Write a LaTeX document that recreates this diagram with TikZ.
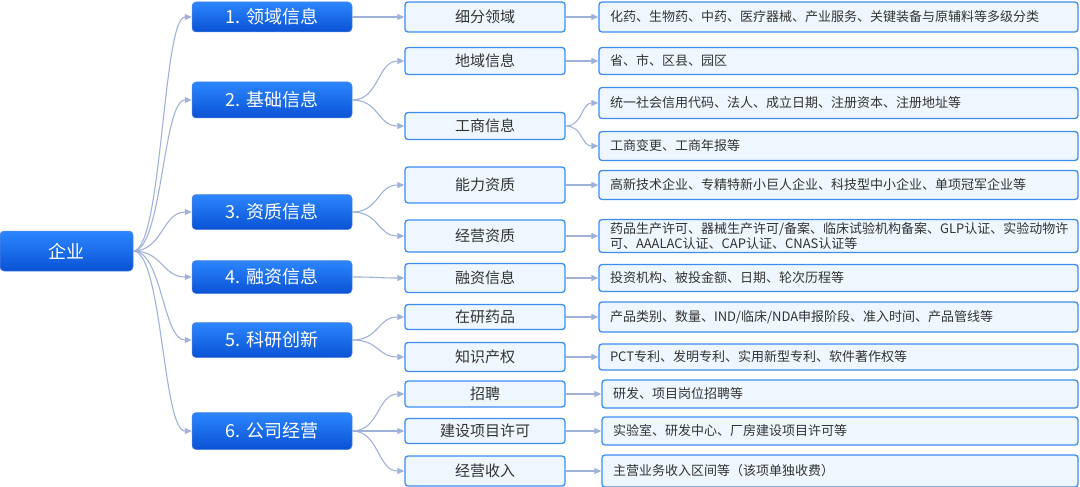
\documentclass[tikz,border=0pt]{standalone}
\usepackage{fontspec}
\setmainfont{Noto Sans CJK SC}
\usepackage{tikz}
\usetikzlibrary{arrows.meta}

\definecolor{headlight}{HTML}{2C86FF}
\definecolor{headdark}{HTML}{0A52D4}
\definecolor{boxline}{HTML}{3D8DF2}
\definecolor{boxfill}{HTML}{EEF6FF}
\definecolor{linkgray}{HTML}{A0B2DA}
\definecolor{txtgray}{HTML}{333333}

\tikzset{
  headbox/.style={rectangle, rounded corners=4pt, top color=headlight, bottom color=headdark, draw=headdark!70, line width=0.5pt, text=white, font=\fontsize{18}{20}\selectfont, minimum width=160pt, minimum height=34pt, inner sep=0pt},
  subbox/.style={rectangle, rounded corners=3pt, draw=boxline, fill=boxfill, line width=1.3pt, text=txtgray, font=\fontsize{15}{17}\selectfont, minimum width=160pt, inner sep=0pt},
  detbox/.style={rectangle, rounded corners=3pt, draw=boxline, fill=boxfill, line width=1.3pt, text=txtgray, font=\fontsize{13}{15.5}\selectfont, text width=457pt, inner xsep=11pt, inner ysep=0pt, align=left},
  arrowlink/.style={draw=linkgray, line width=1.1pt, -{Triangle[length=7pt,width=6pt]}}
}

\begin{document}
\begin{tikzpicture}[x=1pt, y=1pt]
		\useasboundingbox (0,0) rectangle (1080,-487);
		
		\node[headbox, minimum width=133pt, minimum height=40pt](ROOT) at (66.5,-251){企业};
		
		\node[headbox, minimum height=30pt](CAT1) at (272,-17){1. 领域信息};
		\node[headbox, below of=CAT1, node distance=83pt, minimum height=36pt](CAT2){2. 基础信息};
		\node[headbox, below of=CAT2, node distance=112pt, minimum height=35pt](CAT3){3. 资质信息};
		\node[headbox, below of=CAT3, node distance=65pt, minimum height=33pt](CAT4){4. 融资信息};
		\node[headbox, below of=CAT4, node distance=63pt, minimum height=35pt](CAT5){5. 科研创新};
		\node[headbox, below of=CAT5, node distance=91pt, minimum height=37pt](CAT6){6. 公司经营};
		
		\node[subbox, right of=CAT1, node distance=213pt, minimum height=30pt](SUB1){细分领域};
		\node[subbox, below of=SUB1, node distance=44pt, minimum height=27pt](SUB2){地域信息};
		\node[subbox, below of=SUB2, node distance=65pt, minimum height=27pt](SUB3){工商信息};
		\node[subbox, below of=SUB3, node distance=59pt, minimum height=36pt](SUB4){能力资质};
		\node[subbox, below of=SUB4, node distance=51pt, minimum height=32pt](SUB5){经营资质};
		\node[subbox, below of=SUB5, node distance=42pt, minimum height=29pt](SUB6){融资信息};
		\node[subbox, below of=SUB6, node distance=39pt, minimum height=25pt](SUB7){在研药品};
		\node[subbox, below of=SUB7, node distance=40pt, minimum height=29pt](SUB8){知识产权};
		\node[subbox, below of=SUB8, node distance=37pt, minimum height=26pt](SUB9){招聘};
		\node[subbox, below of=SUB9, node distance=37pt, minimum height=25pt](SUB10){建设项目许可};
		\node[subbox, below of=SUB10, node distance=40pt, minimum height=30pt](SUB11){经营收入};
		
		\node[detbox, right of=SUB1, node distance=353.5pt, minimum height=30pt](DET1){化药、生物药、中药、医疗器械、产业服务、关键装备与原辅料等多级分类};
		\node[detbox, right of=SUB2, node distance=353.5pt, minimum height=27pt](DET2){省、市、区县、园区};
		\node[detbox, right of=SUB3, node distance=353.5pt, yshift=23pt, minimum height=31pt](DET3){统一社会信用代码、法人、成立日期、注册资本、注册地址等};
		\node[detbox, right of=SUB3, node distance=353.5pt, yshift=-20pt, minimum height=29pt](DET4){工商变更、工商年报等};
		\node[detbox, right of=SUB4, node distance=353.5pt, minimum height=29pt](DET5){高新技术企业、专精特新小巨人企业、科技型中小企业、单项冠军企业等};
		\node[detbox, right of=SUB5, node distance=353.5pt, minimum height=33pt](DET6){药品生产许可、器械生产许可/备案、临床试验机构备案、GLP认证、实验动物许\\可、AAALAC认证、CAP认证、CNAS认证等};
		\node[detbox, right of=SUB6, node distance=353.5pt, minimum height=27pt](DET7){投资机构、被投金额、日期、轮次历程等};
		\node[detbox, right of=SUB7, node distance=353.5pt, minimum height=30pt](DET8){产品类别、数量、IND/临床/NDA申报阶段、准入时间、产品管线等};
		\node[detbox, right of=SUB8, node distance=353.5pt, minimum height=26pt](DET9){PCT专利、发明专利、实用新型专利、软件著作权等};
		\node[detbox, right of=SUB9, node distance=355pt, text width=454pt, minimum height=28pt](DET10){研发、项目岗位招聘等};
		\node[detbox, right of=SUB10, node distance=355pt, text width=454pt, minimum height=28pt](DET11){实验室、研发中心、厂房建设项目许可等};
		\node[detbox, right of=SUB11, node distance=355pt, text width=454pt, minimum height=32pt](DET12){主营业务收入区间等（该项单独收费）};
		
		\draw[arrowlink] (ROOT.east) .. controls +(29,0) and +(-29,0) .. (CAT1.west);
		\draw[arrowlink] (ROOT.east) .. controls +(29,0) and +(-29,0) .. (CAT2.west);
		\draw[arrowlink] (ROOT.east) .. controls +(29,0) and +(-29,0) .. (CAT3.west);
		\draw[arrowlink] (ROOT.east) .. controls +(29,0) and +(-29,0) .. (CAT4.west);
		\draw[arrowlink] (ROOT.east) .. controls +(29,0) and +(-29,0) .. (CAT5.west);
		\draw[arrowlink] (ROOT.east) .. controls +(29,0) and +(-29,0) .. (CAT6.west);
		
		\draw[arrowlink] (CAT1.east) .. controls +(27,0) and +(-27,0) .. (SUB1.west);
		\draw[arrowlink] (CAT2.east) .. controls +(27,0) and +(-27,0) .. (SUB2.west);
		\draw[arrowlink] (CAT2.east) .. controls +(27,0) and +(-27,0) .. (SUB3.west);
		\draw[arrowlink] (CAT3.east) .. controls +(27,0) and +(-27,0) .. (SUB4.west);
		\draw[arrowlink] (CAT3.east) .. controls +(27,0) and +(-27,0) .. (SUB5.west);
		\draw[arrowlink] (CAT4.east) .. controls +(27,0) and +(-27,0) .. (SUB6.west);
		\draw[arrowlink] (CAT5.east) .. controls +(27,0) and +(-27,0) .. (SUB7.west);
		\draw[arrowlink] (CAT5.east) .. controls +(27,0) and +(-27,0) .. (SUB8.west);
		\draw[arrowlink] (CAT6.east) .. controls +(27,0) and +(-27,0) .. (SUB9.west);
		\draw[arrowlink] (CAT6.east) .. controls +(27,0) and +(-27,0) .. (SUB10.west);
		\draw[arrowlink] (CAT6.east) .. controls +(27,0) and +(-27,0) .. (SUB11.west);
		
		\draw[arrowlink] (SUB1.east) -- (DET1.west);
		\draw[arrowlink] (SUB2.east) -- (DET2.west);
		\draw[arrowlink] (SUB3.east) .. controls +(17,0) and +(-17,0) .. (DET3.west);
		\draw[arrowlink] (SUB3.east) .. controls +(17,0) and +(-17,0) .. (DET4.west);
		\draw[arrowlink] (SUB4.east) -- (DET5.west);
		\draw[arrowlink] (SUB5.east) -- (DET6.west);
		\draw[arrowlink] (SUB6.east) -- (DET7.west);
		\draw[arrowlink] (SUB7.east) -- (DET8.west);
		\draw[arrowlink] (SUB8.east) -- (DET9.west);
		\draw[arrowlink] (SUB9.east) -- (DET10.west);
		\draw[arrowlink] (SUB10.east) -- (DET11.west);
		\draw[arrowlink] (SUB11.east) -- (DET12.west);
\end{tikzpicture}
\end{document}
